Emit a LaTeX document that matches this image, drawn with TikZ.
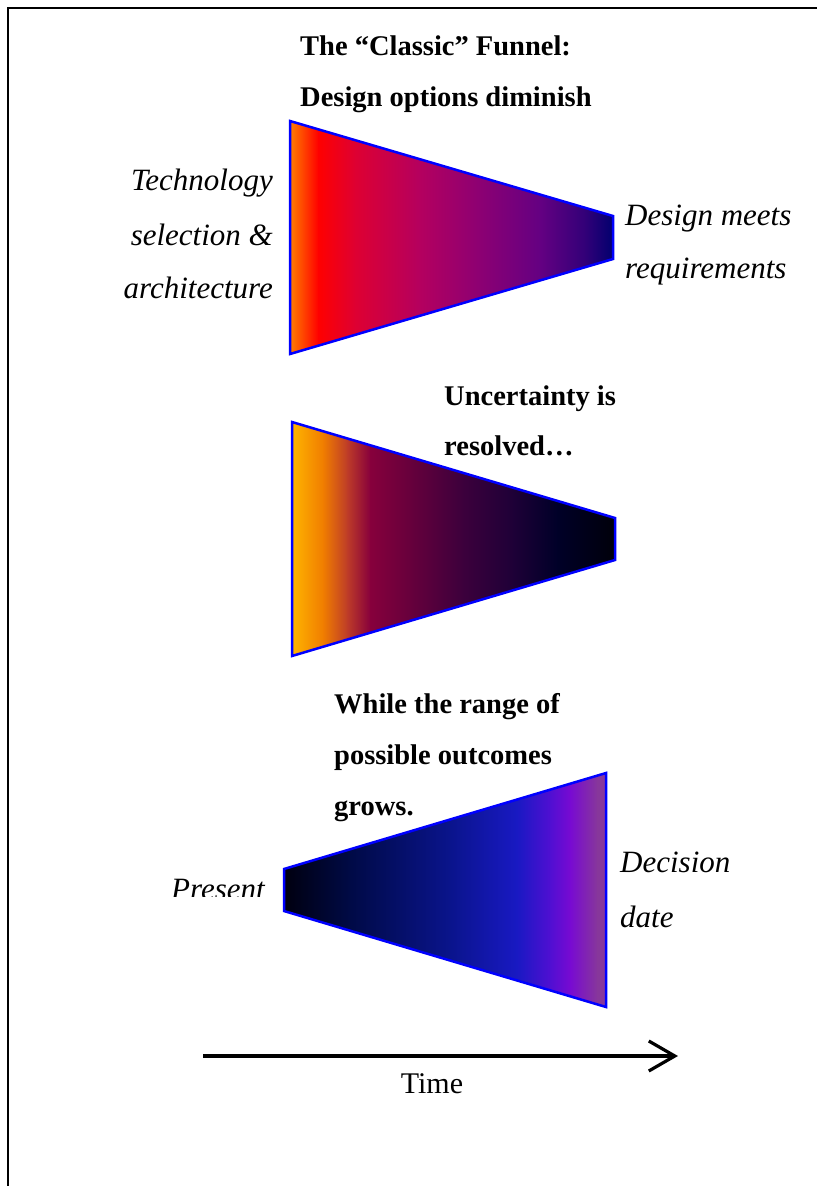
\documentclass[tikz,border=0pt]{standalone}
\usepackage{fontspec}
\setmainfont{Liberation Serif}
\usetikzlibrary{arrows.meta}
\definecolor{fblue}{RGB}{0,0,255}
% funnel 1 stops
\definecolor{a1}{RGB}{255,125,0}
\definecolor{a2}{RGB}{255,0,0}
\definecolor{a3}{RGB}{222,0,50}
\definecolor{a4}{RGB}{180,0,95}
\definecolor{a5}{RGB}{140,0,115}
\definecolor{a6}{RGB}{100,0,130}
\definecolor{a7}{RGB}{50,0,120}
\definecolor{a8}{RGB}{0,0,110}
% funnel 2 stops
\definecolor{b1}{RGB}{255,180,0}
\definecolor{b2}{RGB}{240,125,0}
\definecolor{b3}{RGB}{190,60,40}
\definecolor{b4}{RGB}{135,0,60}
\definecolor{b5}{RGB}{100,0,60}
\definecolor{b6}{RGB}{60,0,60}
\definecolor{b7}{RGB}{30,0,55}
\definecolor{b8}{RGB}{0,0,40}
\definecolor{b9}{RGB}{0,0,10}
% funnel 3 stops
\definecolor{c1}{RGB}{0,0,15}
\definecolor{c2}{RGB}{0,10,70}
\definecolor{c3}{RGB}{10,20,140}
\definecolor{c4}{RGB}{25,25,195}
\definecolor{c5}{RGB}{80,15,210}
\definecolor{c6}{RGB}{120,10,210}
\definecolor{c7}{RGB}{135,55,155}
\newcommand{\gstrip}[4]{\fill[left color=#1,right color=#2] (#3,0) rectangle (#4+0.6,1186);}
\begin{document}
\begin{tikzpicture}[x=1pt,y=-1pt,
  lbl/.style={inner sep=0pt, font=\fontsize{31}{36}\selectfont\itshape},
  ttl/.style={inner sep=0pt, font=\fontsize{28.5}{34}\selectfont\bfseries},
  tim/.style={inner sep=0pt, font=\fontsize{30}{36}\selectfont},
  funnelline/.style={draw=fblue, line width=2.5pt, line join=miter},
  frameline/.style={draw=black, line width=2pt},
  timearrow/.style={draw=black, line width=3.2pt, -{Straight Barb[length=26pt,width=30pt,line width=3.2pt]}}]
\useasboundingbox (0,0) rectangle (817,1186);
\fill[white] (0,0) rectangle (817,1186);
% frame
\coordinate (fbl) at (8,1186);
\coordinate (ftl) at (8,8);
\coordinate (ftr) at (817,8);
\draw[frameline] (fbl) -- (ftl) -- (ftr);

% funnel 1
\begin{scope}
\clip (290,121) -- (613,216) -- (613,259) -- (290,354) -- cycle;
\gstrip{a1}{a2}{290}{318}
\gstrip{a2}{a3}{318}{355}
\gstrip{a3}{a4}{355}{420}
\gstrip{a4}{a5}{420}{480}
\gstrip{a5}{a6}{480}{540}
\gstrip{a6}{a7}{540}{585}
\gstrip{a7}{a8}{585}{613}
\end{scope}
\draw[funnelline] (290,121) -- (613,216) -- (613,259) -- (290,354) -- cycle;

% funnel 2
\begin{scope}
\clip (292,422) -- (615,518) -- (615,560) -- (292,656) -- cycle;
\gstrip{b1}{b2}{292}{323}
\gstrip{b2}{b3}{323}{347}
\gstrip{b3}{b4}{347}{370}
\gstrip{b4}{b5}{370}{413}
\gstrip{b5}{b6}{413}{463}
\gstrip{b6}{b7}{463}{513}
\gstrip{b7}{b8}{513}{557}
\gstrip{b8}{b9}{557}{615}
\end{scope}
\draw[funnelline] (292,422) -- (615,518) -- (615,560) -- (292,656) -- cycle;

% funnel 3
\begin{scope}
\clip (284,869) -- (606,773) -- (606,1007) -- (284,911) -- cycle;
\gstrip{c1}{c2}{284}{350}
\gstrip{c2}{c3}{350}{450}
\gstrip{c3}{c4}{450}{517}
\gstrip{c4}{c5}{517}{550}
\gstrip{c5}{c6}{550}{570}
\gstrip{c6}{c7}{570}{597}
\gstrip{c7}{c7}{597}{606}
\end{scope}
\draw[funnelline] (284,869) -- (606,773) -- (606,1007) -- (284,911) -- cycle;

% titles
\node[ttl, anchor=base west] (t1) at (300,55) {The “Classic” Funnel:};
\node[ttl, anchor=base west] (t2) at (300,106) {Design options diminish};
\node[ttl, anchor=base west] (u1) at (444,405) {Uncertainty is};
\node[ttl, anchor=base west] (u2) at (444,455) {resolved…};
\node[ttl, anchor=base west] (w1) at (334,713) {While the range of};
\node[ttl, anchor=base west] (w2) at (334,764) {possible outcomes};
\node[ttl, anchor=base west] (w3) at (334,815) {grows.};

% italic labels
\node[lbl, anchor=base east] (l1) at (273,190) {Technology};
\node[lbl, anchor=base east] (l2) at (273,245) {selection \&};
\node[lbl, anchor=base east] (l3) at (273,298) {architecture};
\node[lbl, anchor=base west] (r1) at (625,225) {Design meets};
\node[lbl, anchor=base west] (r2) at (625,278) {requirements};
\node[lbl, anchor=base west] (d1) at (620,872) {Decision};
\node[lbl, anchor=base west] (d2) at (620,927) {date};
\begin{scope}
\clip (150,850) rectangle (282,896);
\node[lbl, anchor=base west] (p1) at (171,899) {Present};
\end{scope}

% time arrow
\coordinate (ta) at (203,1056);
\coordinate (tb) at (678,1056);
\draw[timearrow] (ta) -- (tb);
\node[tim, anchor=base] (tt) at (432,1093) {Time};
\end{tikzpicture}
\end{document}
